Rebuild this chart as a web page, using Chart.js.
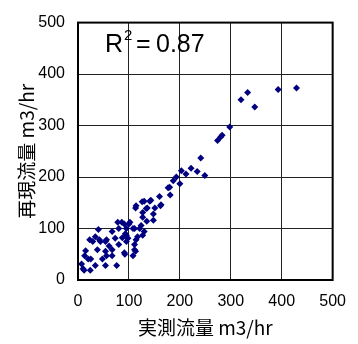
<!DOCTYPE html>
<html>
<head>
<meta charset="utf-8">
<script src="https://cdn.jsdelivr.net/npm/chart.js@4/dist/chart.umd.min.js"></script>
<style>
  html, body { margin: 0; padding: 0; background: #fff; }
  #wrap { width: 358px; height: 344px; }
</style>
</head>
<body>
<div id="wrap"><canvas id="myChart" width="358" height="344"></canvas></div>
<script>
// 実測流量 (x) と 再現流量 (y), m3/hr
const measured = [7, 10, 12, 24, 34, 20, 13, 15, 29, 23, 40, 38, 42, 48, 54, 54, 54, 61, 67, 67,
  67, 73, 76, 78, 80, 80, 86, 87, 92, 93, 95, 95, 98, 102, 108, 111, 111, 111, 114, 113,
  121, 127, 130, 127, 135, 127, 126, 134, 141, 148, 148, 151, 160, 163, 177, 181, 187, 193, 200, 203,
  212, 222, 234, 249, 241, 274, 280, 283, 298, 320, 333, 347, 393, 429,
  91, 100, 34, 44, 56, 25, 56, 91, 113, 143, 130, 114, 136, 162, 124, 117, 108, 95, 180];
const reproduced = [31, 22, 19, 19, 28, 41, 47, 57, 75, 78, 98, 59, 78, 41, 28, 56, 75, 66, 47, 59,
  94, 81, 28, 112, 69, 100, 112, 82, 50, 90, 75, 100, 81, 112, 47, 59, 69, 100, 78, 140,
  100, 87, 94, 122, 114, 131, 152, 139, 153, 128, 116, 140, 162, 146, 179, 165, 193, 200, 187, 212,
  206, 217, 211, 203, 237, 271, 278, 281, 297, 350, 364, 336, 370, 373,
  109, 109, 84, 75, 78, 41, 47, 53, 56, 155, 153, 144, 140, 144, 106, 84, 100, 87, 180];
const axisTicks = [0, 100, 200, 300, 400, 500];
const xTitle = '実測流量 m3/hr';
const yTitle = '再現流量 m3/hr';
const r2Label = '0.87';

const points = measured.map((x, i) => ({ x: x, y: reproduced[i] }));

// R² の表示と外枠
const extras = {
  id: 'extras',
  afterDraw(chart) {
    const c = chart.ctx;
    const a = chart.chartArea;
    c.save();
    c.fillStyle = '#000';
    c.textBaseline = 'alphabetic';
    c.font = '25px "Liberation Sans", Arial, sans-serif';
    c.fillText('R', 105, 52);
    c.font = '15px "Liberation Sans", Arial, sans-serif';
    c.fillText('2', 124, 40);
    c.font = '25px "Liberation Sans", Arial, sans-serif';
    c.fillText('=', 136, 52);
    c.fillText(r2Label, 156, 52);
    c.strokeStyle = '#000';
    c.lineWidth = 2;
    c.strokeRect(a.left, a.top, a.right - a.left, a.bottom - a.top);
    c.restore();
  }
};

new Chart(document.getElementById('myChart'), {
  type: 'scatter',
  data: {
    datasets: [{
      data: points,
      pointStyle: 'rectRot',
      pointRadius: 3.5,
      backgroundColor: '#000080',
      borderColor: '#000080',
      borderWidth: 0
    }]
  },
  options: {
    responsive: false,
    animation: false,
    layout: { padding: { left: 0, right: 16, top: 13, bottom: 0 } },
    plugins: { legend: { display: false }, tooltip: { enabled: false } },
    scales: {
      x: {
        type: 'linear', min: 0, max: 500,
        afterBuildTicks: s => { s.ticks = axisTicks.map(v => ({ value: v })); },
        afterFit: s => { s.height = 64; },
        grid: { color: '#222', lineWidth: 1, drawTicks: false },
        border: { display: false },
        ticks: { padding: 12, color: '#000', font: { family: '"Liberation Sans", Arial, sans-serif', size: 16 } },
        title: { display: true, text: xTitle, color: '#000', padding: { top: 0, bottom: 5 },
          font: { family: '"Noto Sans CJK JP", sans-serif', size: 19 } }
      },
      y: {
        type: 'linear', min: 0, max: 500,
        afterBuildTicks: s => { s.ticks = axisTicks.map(v => ({ value: v })); },
        afterFit: s => { s.width = 78; },
        grid: { color: '#222', lineWidth: 1, drawTicks: false },
        border: { display: false },
        ticks: { padding: 13, color: '#000', font: { family: '"Liberation Sans", Arial, sans-serif', size: 16 } },
        title: { display: true, text: yTitle, color: '#000', padding: { top: 15, bottom: 0 },
          font: { family: '"Noto Sans CJK JP", sans-serif', size: 19 } }
      }
    }
  },
  plugins: [extras]
});
</script>
</body>
</html>
